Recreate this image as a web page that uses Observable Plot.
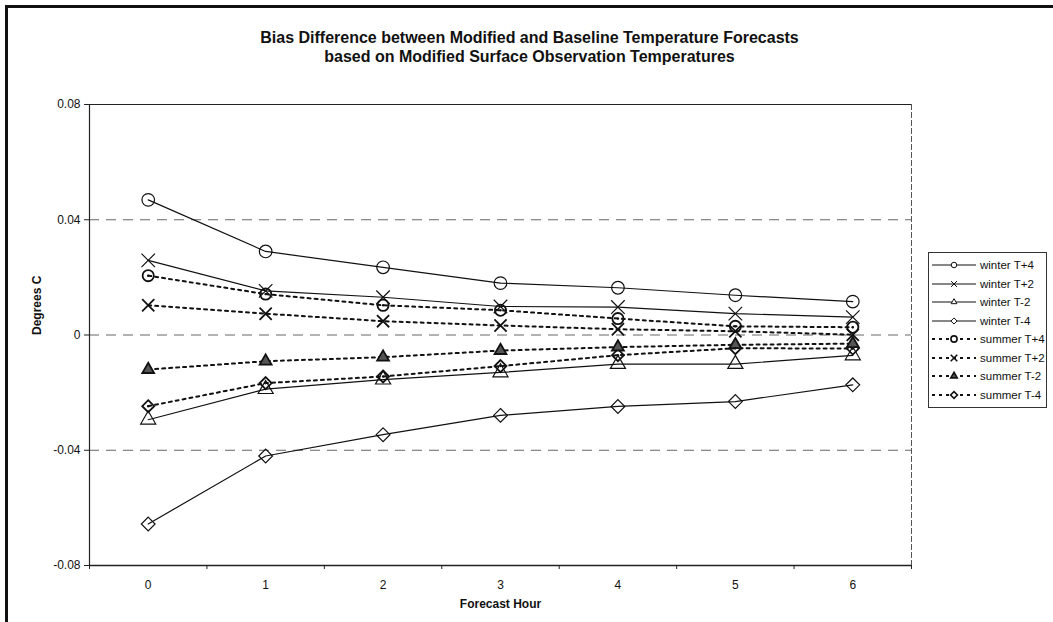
<!DOCTYPE html>
<html>
<head>
<meta charset="utf-8">
<script src="https://cdn.jsdelivr.net/npm/d3@7"></script>
<script src="https://cdn.jsdelivr.net/npm/@observablehq/plot@0.6"></script>
<style>
  body { margin: 0; background: #fff; font-family: "Liberation Sans", Arial, sans-serif; }
  #wrap { position: relative; width: 1053px; height: 622px; overflow: hidden; background: #fff; }
  #border { position: absolute; left: 5px; top: 5px; width: 1100px; height: 700px; border-left: 3px solid #111; border-top: 3px solid #111; }
  #title { position: absolute; left: 6px; width: 1047px; top: 28px; text-align: center; font-weight: bold; font-size: 16px; line-height: 19px; color: #111; }
  #chart { position: absolute; left: 0; top: 80px; }
  #legend { position: absolute; left: 928px; top: 252px; width: 117px; border: 1px solid #333; background: #fff; padding: 3px 0 3px 0; }
  .row { display: flex; align-items: center; height: 18.5px; font-size: 11.5px; color: #111; }
  .row svg { display: block; margin-left: 2px; margin-right: 3px; }
</style>
</head>
<body>
<div id="wrap">
  <div id="border"></div>
  <div id="title">Bias Difference between Modified and Baseline Temperature Forecasts<br>based on Modified Surface Observation Temperatures</div>
  <div id="chart"></div>
  <div id="legend"></div>
</div>
<script>
// ---- data ----
const hours = [0, 1, 2, 3, 4, 5, 6];
const seriesNames = ["winter T+4", "winter T+2", "winter T-2", "winter T-4", "summer T+4", "summer T+2", "summer T-2", "summer T-4"];
const winterTp4 = [0.0469, 0.0290, 0.0235, 0.0180, 0.0164, 0.0138, 0.0116];
const winterTp2 = [0.0259, 0.0153, 0.0131, 0.0099, 0.0097, 0.0074, 0.0062];
const winterTm2 = [-0.0294, -0.0188, -0.0155, -0.0130, -0.0101, -0.0101, -0.0071];
const winterTm4 = [-0.0656, -0.0420, -0.0346, -0.0279, -0.0248, -0.0231, -0.0173];
const summerTp4 = [0.0206, 0.0142, 0.0103, 0.0086, 0.0057, 0.0030, 0.0027];
const summerTp2 = [0.0103, 0.0074, 0.0048, 0.0033, 0.0020, 0.0013, 0.0001];
const summerTm2 = [-0.0120, -0.0091, -0.0077, -0.0054, -0.0042, -0.0034, -0.0030];
const summerTm4 = [-0.0247, -0.0167, -0.0144, -0.0108, -0.0070, -0.0046, -0.0047];
const yTicks = [-0.08, -0.04, 0, 0.04, 0.08];

const seriesValues = [winterTp4, winterTp2, winterTm2, winterTm4, summerTp4, summerTp2, summerTm2, summerTm4];
const symbols = ["circle", "times", "triangle", "diamond2", "circle", "times", "triangle", "diamond2"];

const rows = [];
seriesNames.forEach((name, i) => {
  hours.forEach((h, j) => rows.push({hour: h, value: seriesValues[i][j], series: name, summer: i >= 4, symbol: symbols[i]}));
});
const winter = rows.filter(d => !d.summer);
const summer = rows.filter(d => d.summer);

const winterR = {circle: 6.3, times: 6.2, triangle: 5.6, diamond2: 6.2};
const summerR = {circle: 5.6, times: 5.6, triangle: 4.4, diamond2: 5.4};
const halfTicks = d3.range(-0.5, 7, 1);

const chart = Plot.plot({
  width: 1053,
  height: 542,
  marginLeft: 89,
  marginRight: 142,
  marginTop: 24,
  marginBottom: 57,
  style: {fontFamily: "'Liberation Sans', Arial, sans-serif", fontSize: "12px", color: "#111", background: "transparent"},
  x: {domain: [-0.5, 6.5]},
  y: {domain: [-0.08, 0.08]},
  r: {type: "identity"},
  marks: [
    Plot.ruleY([0.04, 0, -0.04], {stroke: "#666", strokeWidth: 1, strokeDasharray: "10,7"}),
    Plot.ruleY([0.08], {stroke: "#222", strokeWidth: 1.2}),
    Plot.ruleX([6.5], {stroke: "#555", strokeWidth: 1, strokeDasharray: "6,2"}),
    Plot.axisY({ticks: yTicks, tickFormat: d => d === 0 ? "0" : d.toFixed(2), tickSize: 5, tickPadding: 4, label: null, stroke: "#222"}),
    Plot.ruleX([-0.5], {stroke: "#222", strokeWidth: 1.2}),
    Plot.ruleY([-0.08], {stroke: "#222", strokeWidth: 1.5}),
    Plot.axisX({ticks: halfTicks, tickFormat: () => "", tickSize: 4, label: null, stroke: "#222"}),
    Plot.axisX({ticks: hours, tickFormat: d => String(Math.round(d)), tickSize: 0, tickPadding: 15, label: null}),
    Plot.text(["Forecast Hour"], {frameAnchor: "bottom", dy: 42, fontWeight: "bold", fontSize: 12, fill: "#111"}),
    Plot.text(["Degrees C"], {frameAnchor: "left", dx: -52, rotate: -90, fontWeight: "bold", fontSize: 12, fill: "#111"}),
    // lines
    Plot.line(winter, {x: "hour", y: "value", z: "series", stroke: "#111", strokeWidth: 1.2}),
    Plot.line(summer, {x: "hour", y: "value", z: "series", stroke: "#111", strokeWidth: 2, strokeDasharray: "3,4"}),
    // markers
    Plot.dot(winter, {x: "hour", y: "value", symbol: "symbol", r: d => winterR[d.symbol], stroke: "#111", strokeWidth: 1.2, fill: "none"}),
    Plot.dot(summer.filter(d => d.symbol !== "triangle"), {x: "hour", y: "value", symbol: "symbol", r: d => summerR[d.symbol], stroke: "#111", strokeWidth: 1.8, fill: "none"}),
    Plot.dot(summer.filter(d => d.symbol === "triangle"), {x: "hour", y: "value", symbol: "triangle", r: summerR.triangle, stroke: "#111", strokeWidth: 1.8, fill: "#555"}),
    Plot.dot(summer.filter(d => d.symbol === "circle" || d.symbol === "diamond2"), {x: "hour", y: "value", r: 1.2, fill: "#111"})
  ]
});
document.getElementById("chart").appendChild(chart);

// ---- legend ----
const legend = d3.select("#legend");
seriesNames.forEach((name, i) => {
  const isSummer = i >= 4;
  const row = legend.append("div").attr("class", "row");
  const svg = row.append("svg").attr("width", 46).attr("height", 14);
  svg.append("line").attr("x1", 1).attr("x2", 45).attr("y1", 7).attr("y2", 7)
    .attr("stroke", "#111").attr("stroke-width", isSummer ? 2 : 1.2)
    .attr("stroke-dasharray", isSummer ? "3,4" : null);
  const symMap = {circle: d3.symbolCircle, times: d3.symbolTimes, triangle: d3.symbolTriangle2, diamond2: d3.symbolDiamond2};
  const sz = isSummer ? 30 : 24;
  svg.append("path").attr("transform", "translate(23,7)")
    .attr("d", d3.symbol(symMap[symbols[i]], sz)())
    .attr("fill", isSummer && symbols[i] === "triangle" ? "#555" : "#fff")
    .attr("stroke", "#111").attr("stroke-width", isSummer ? 1.6 : 1);
  row.append("span").text(name);
});
</script>
</body>
</html>
